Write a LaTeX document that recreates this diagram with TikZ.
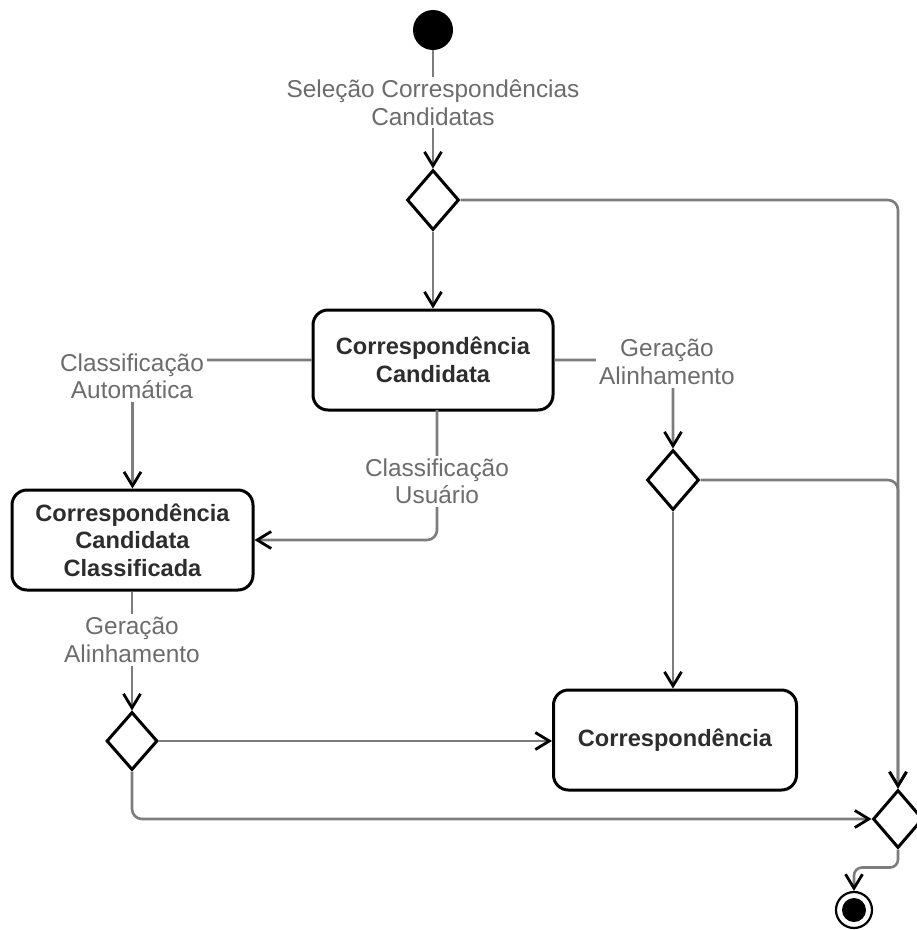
\documentclass[tikz,border=0pt]{standalone}
\usepackage{fontspec}
\setmainfont{Liberation Sans}
\usetikzlibrary{arrows.meta,shapes.geometric}
\definecolor{edgegray}{RGB}{125,125,125}
\definecolor{lblgray}{RGB}{108,108,108}
\definecolor{txtdark}{RGB}{45,45,45}
\begin{document}
\begin{tikzpicture}[x=1pt,y=-1pt,
  flow/.style={draw=edgegray, line width=2.6pt,
    -{Straight Barb[length=14pt,width=17pt,color=black,line width=2.8pt]}},
  activity/.style={draw=black, line width=3pt, rounded corners=15pt, fill=white,
    minimum height=100pt, align=center, inner sep=0pt, text=txtdark,
    font=\fontsize{23.6}{27.5}\selectfont\bfseries},
  decision/.style={diamond, draw=black, line width=3pt, fill=white,
    minimum width=52pt, minimum height=60pt, inner sep=0pt},
  guard/.style={fill=white, align=center, text=lblgray, inner sep=3pt,
    font=\fontsize{24.4}{27.5}\selectfont},
  ]
\useasboundingbox (0,0) rectangle (917,930);

% states and decisions
\node[circle, fill=black, minimum size=40pt, inner sep=0pt] (start) at (433,30) {};
\node[decision] (d1) at (433,200) {};
\node[activity, minimum width=240pt] (b1) at (433,360) {Correspondência\\Candidata};
\node[activity, minimum width=241pt] (b2) at (132.5,540) {Correspondência\\Candidata\\Classificada};
\node[decision] (d2) at (673,480) {};
\node[decision, minimum width=51pt, minimum height=58pt] (d3) at (132,741) {};
\node[activity, minimum width=243pt] (b3) at (675,740) {Correspondência};
\node[decision, minimum width=50pt, minimum height=58pt] (dm) at (898,819) {};
\node[circle, draw=black, line width=2.2pt, fill=white, minimum size=36pt, inner sep=0pt] (endc) at (854,910) {};
\node[circle, fill=black, minimum size=24pt, inner sep=0pt] (endcore) at (endc.center) {};

% transitions
\coordinate (uTop) at (437,410);
\draw[flow] (start) -- (d1);
\draw[flow, rounded corners=10pt] (d1.east) -- (898,200) -- (dm.north);
\draw[flow] (d1) -- (b1);
\draw[flow, rounded corners=10pt] (b1.west) -| (b2.north);
\draw[flow, rounded corners=10pt] (uTop) |- (b2.east);
\draw[flow, rounded corners=10pt] (b1.east) -| (d2.north);
\draw[flow, rounded corners=10pt] (d2.east) -| (dm.north);
\draw[flow] (d2.south) -- (d2.south |- b3.north);
\draw[flow] (b2.south -| d3.north) -- (d3.north);
\draw[flow] (d3.east) -- (d3.east -| b3.west);
\draw[flow, rounded corners=10pt] (d3.south) |- (dm.west);
\draw[flow, rounded corners=8pt] (dm.south) -- ++(0,18) -| (endc.north);

% guard labels
\node[guard] (gSel) at (433,102.5) {Seleção Correspondências\\Candidatas};
\node[guard] (gAuto) at (132,376.5) {Classificação\\Automática};
\node[guard] (gUser) at (437,481.5) {Classificação\\Usuário};
\node[guard] (gGenA) at (667,362) {Geração\\Alinhamento};
\node[guard] (gGenB) at (132,640) {Geração\\Alinhamento};
\end{tikzpicture}
\end{document}
